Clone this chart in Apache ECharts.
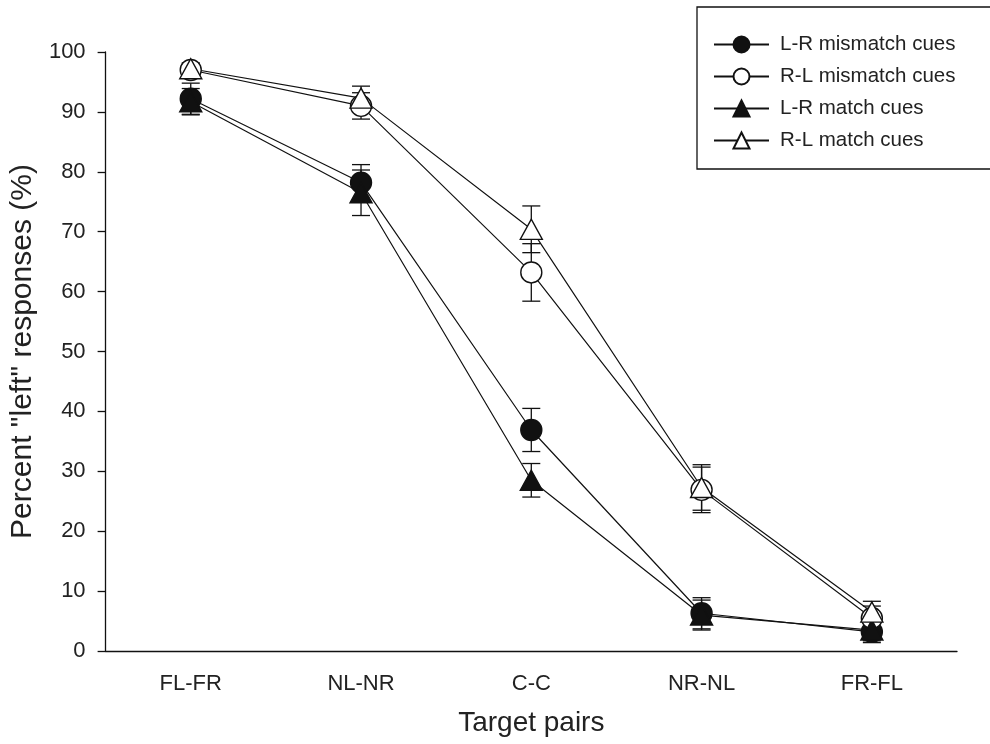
<!DOCTYPE html>
<html>
<head>
<meta charset="utf-8">
<script src="https://cdn.jsdelivr.net/npm/echarts@6/dist/echarts.min.js"></script>
<style>html,body{margin:0;padding:0;background:#fff;overflow:hidden}#c{width:990px;height:744px}</style>
</head>
<body>
<div id="c"></div>
<script>
var categories = ['FL-FR', 'NL-NR', 'C-C', 'NR-NL', 'FR-FL'];
var yTicks = [0, 10, 20, 30, 40, 50, 60, 70, 80, 90, 100];
var seriesNames = ['L-R mismatch cues', 'R-L mismatch cues', 'L-R match cues', 'R-L match cues'];
var lrMismatch = [92.2, 78.2, 36.9, 6.3, 3.2];
var lrMismatchErr = [2.6, 3.0, 3.6, 2.6, 1.8];
var rlMismatch = [97.0, 91.0, 63.2, 26.9, 5.5];
var rlMismatchErr = [1.0, 2.2, 4.8, 3.8, 2.0];
var lrMatch = [91.7, 76.5, 28.5, 6.0, 3.5];
var lrMatchErr = [2.2, 3.8, 2.8, 2.5, 1.8];
var rlMatch = [97.2, 92.3, 70.4, 27.3, 6.5];
var rlMatchErr = [1.0, 2.0, 3.9, 3.8, 1.8];

var FONT = '"Liberation Sans", Arial, sans-serif';
var chart = echarts.init(document.getElementById('c'), null, {renderer: 'canvas'});

function errData(vals, errs) {
  return vals.map(function (v, i) { return [i, v - errs[i], v + errs[i]]; });
}
function errSeries(vals, errs) {
  return {
    type: 'custom',
    data: errData(vals, errs),
    z: 1,
    silent: true,
    renderItem: function (params, api) {
      var lo = api.coord([api.value(0), api.value(1)]);
      var hi = api.coord([api.value(0), api.value(2)]);
      var w = 9;
      var st = {stroke: '#111', lineWidth: 1.3};
      return {
        type: 'group',
        children: [
          {type: 'line', shape: {x1: hi[0], y1: hi[1], x2: lo[0], y2: lo[1]}, style: st},
          {type: 'line', shape: {x1: hi[0] - w, y1: hi[1], x2: hi[0] + w, y2: hi[1]}, style: st},
          {type: 'line', shape: {x1: lo[0] - w, y1: lo[1], x2: lo[0] + w, y2: lo[1]}, style: st}
        ]
      };
    }
  };
}
function lineSeries(name, vals, symbol, filled) {
  return {
    name: name,
    type: 'line',
    data: vals,
    z: 3,
    symbol: symbol,
    symbolSize: symbol === 'triangle' ? [22, 20] : 21,
    showAllSymbol: true,
    lineStyle: {color: '#111', width: 1.2},
    itemStyle: {color: filled ? '#111' : '#fff', borderColor: '#111', borderWidth: 1.4},
    emphasis: {disabled: true},
    animation: false
  };
}

var option = {
  animation: false,
  backgroundColor: '#fff',
  grid: {left: 101, right: 33, top: 52, bottom: 93, containLabel: false},
  graphic: [{
    type: 'rect',
    shape: {x: 697, y: 7, width: 300, height: 162},
    style: {fill: 'none', stroke: '#111', lineWidth: 1.3},
    z: 100
  }],
  legend: {
    left: 713,
    top: 34,
    orient: 'vertical',
    itemWidth: 55,
    itemHeight: 20,
    itemGap: 11,
    padding: 0,
    data: seriesNames,
    textStyle: {fontFamily: FONT, fontSize: 20.5, color: '#222', padding: [0, 0, 0, 6], height: 20, lineHeight: 20}
  },
  xAxis: {
    type: 'category',
    data: categories,
    boundaryGap: true,
    name: 'Target pairs',
    nameLocation: 'middle',
    nameGap: 58,
    nameTextStyle: {fontFamily: FONT, fontSize: 28, color: '#222'},
    axisLine: {lineStyle: {color: '#111', width: 1.3}},
    axisTick: {alignWithLabel: true, length: 8, lineStyle: {color: '#111', width: 1.3}},
    axisLabel: {fontFamily: FONT, fontSize: 22, color: '#222', margin: 22},
    splitLine: {show: false}
  },
  yAxis: {
    type: 'value',
    min: yTicks[0],
    max: yTicks[yTicks.length - 1],
    interval: 10,
    name: 'Percent "left" responses (%)',
    nameLocation: 'middle',
    nameGap: 62,
    nameTextStyle: {fontFamily: FONT, fontSize: 30, color: '#222'},
    axisLine: {show: true, lineStyle: {color: '#111', width: 1.3}},
    axisTick: {show: true, length: 8, lineStyle: {color: '#111', width: 1.3}},
    axisLabel: {fontFamily: FONT, fontSize: 22, color: '#222', margin: 20},
    splitLine: {show: false}
  },
  series: [
    errSeries(lrMismatch, lrMismatchErr),
    errSeries(rlMismatch, rlMismatchErr),
    errSeries(lrMatch, lrMatchErr),
    errSeries(rlMatch, rlMatchErr),
    lineSeries(seriesNames[0], lrMismatch, 'circle', true),
    lineSeries(seriesNames[1], rlMismatch, 'circle', false),
    lineSeries(seriesNames[2], lrMatch, 'triangle', true),
    lineSeries(seriesNames[3], rlMatch, 'triangle', false)
  ]
};
chart.setOption(option);
</script>
</body>
</html>
